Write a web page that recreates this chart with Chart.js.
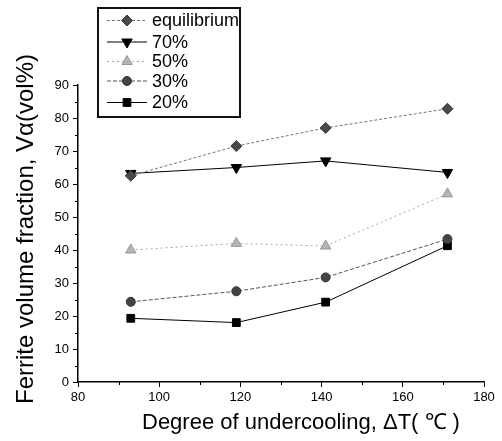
<!DOCTYPE html>
<html>
<head>
<meta charset="utf-8">
<script src="https://cdn.jsdelivr.net/npm/chart.js@4.4.0/dist/chart.umd.min.js"></script>
<style>
  html, body { margin: 0; padding: 0; background: #fff; }
</style>
</head>
<body>
<canvas id="grafico" width="502" height="441"></canvas>
<script>
// datos
const undercooling = [93, 119, 141, 171];
const seriesNames = ['equilibrium', '70%', '50%', '30%', '20%'];
const equilibrium = [62.5, 71.5, 77, 82.8];
const pct70 = [63.2, 65, 67, 63.5];
const pct50 = [40, 42, 41.2, 57];
const pct30 = [24.3, 27.5, 31.7, 43.3];
const pct20 = [19.3, 18, 24.2, 41.3];
const xTicks = [80, 100, 120, 140, 160, 180];
const yTicks = [0, 10, 20, 30, 40, 50, 60, 70, 80, 90];

const FONT = '"Liberation Sans", Arial, sans-serif';

function puntos(ys) {
    return undercooling.map((x, i) => ({ x: x, y: ys[i] }));
}

const estilos = [
    { borderColor: '#777', borderDash: [3, 2], pointStyle: 'rectRot', pointRadius: 5.5, pointBackgroundColor: '#4a4a4a', pointBorderColor: '#333', rotation: 0 },
    { borderColor: '#000', borderDash: [], pointStyle: 'triangle', pointRadius: 6, pointBackgroundColor: '#000', pointBorderColor: '#000', rotation: 180 },
    { borderColor: '#aaa', borderDash: [2, 3], pointStyle: 'triangle', pointRadius: 6, pointBackgroundColor: '#b4b4b4', pointBorderColor: '#999', rotation: 0 },
    { borderColor: '#555', borderDash: [4, 2], pointStyle: 'circle', pointRadius: 4.5, pointBackgroundColor: '#444', pointBorderColor: '#333', rotation: 0 },
    { borderColor: '#000', borderDash: [], pointStyle: 'rect', pointRadius: 5.5, pointBackgroundColor: '#000', pointBorderColor: '#000', rotation: 0 }
];

const valores = [equilibrium, pct70, pct50, pct30, pct20];

const datasets = valores.map((ys, i) => ({
    label: seriesNames[i],
    data: puntos(ys),
    borderColor: estilos[i].borderColor,
    borderDash: estilos[i].borderDash,
    borderWidth: 1,
    pointStyle: estilos[i].pointStyle,
    pointRadius: estilos[i].pointRadius,
    pointRotation: estilos[i].rotation,
    pointBackgroundColor: estilos[i].pointBackgroundColor,
    pointBorderColor: estilos[i].pointBorderColor,
    pointBorderWidth: 1,
    tension: 0
}));

// ticks menores + titulos + leyenda
const decoracion = {
    id: 'decoracion',
    afterDraw(chart) {
        const ctx = chart.ctx;
        const xs = chart.scales.x;
        const ys = chart.scales.y;
        const area = chart.chartArea;

        ctx.save();
        ctx.strokeStyle = '#000';
        ctx.lineWidth = 1;
        for (let v = 90; v <= 170; v += 20) {
            const px = Math.round(xs.getPixelForValue(v)) + 0.5;
            ctx.beginPath();
            ctx.moveTo(px, area.bottom);
            ctx.lineTo(px, area.bottom + 3);
            ctx.stroke();
        }
        for (let v = 5; v <= 85; v += 10) {
            const py = Math.round(ys.getPixelForValue(v)) + 0.5;
            ctx.beginPath();
            ctx.moveTo(area.left, py);
            ctx.lineTo(area.left - 3, py);
            ctx.stroke();
        }

        // titulos de ejes
        ctx.fillStyle = '#000';
        ctx.font = '22px ' + FONT;
        ctx.textAlign = 'left';
        ctx.textBaseline = 'alphabetic';
        ctx.fillText('Degree of undercooling, \u0394T( \u2103 )', 142, 429);

        ctx.translate(33, 404);
        ctx.rotate(-Math.PI / 2);
        ctx.font = '24px ' + FONT;
        ctx.fillText('Ferrite volume fraction, V\u03b1(vol%)', 0, 0);
        ctx.restore();

        // leyenda
        ctx.save();
        ctx.fillStyle = '#fff';
        ctx.fillRect(97, 7, 144, 110);
        ctx.strokeStyle = '#111';
        ctx.lineWidth = 2;
        ctx.strokeRect(98, 8, 142, 109);
        const filas = [20.5, 42, 61.5, 81, 102.5];
        ctx.font = '18px ' + FONT;
        ctx.textBaseline = 'middle';
        ctx.textAlign = 'left';
        datasets.forEach((ds, i) => {
            const y = filas[i];
            ctx.save();
            ctx.strokeStyle = ds.borderColor;
            ctx.lineWidth = 1;
            ctx.setLineDash(ds.borderDash);
            ctx.beginPath();
            ctx.moveTo(107, y);
            ctx.lineTo(147, y);
            ctx.stroke();
            ctx.restore();
            ctx.save();
            ctx.fillStyle = ds.pointBackgroundColor;
            ctx.strokeStyle = ds.pointBorderColor;
            ctx.lineWidth = 1;
            if (Chart.helpers && Chart.helpers.drawPoint) {
                Chart.helpers.drawPoint(ctx, {
                    pointStyle: ds.pointStyle,
                    radius: ds.pointRadius,
                    rotation: ds.pointRotation,
                    borderWidth: 1
                }, 127, y);
            }
            ctx.restore();
            ctx.fillStyle = '#000';
            ctx.fillText(ds.label, 152, y + 1);
        });
        ctx.restore();
    }
};

new Chart(document.getElementById('grafico'), {
    type: 'line',
    data: { datasets: datasets },
    options: {
        responsive: false,
        devicePixelRatio: 1,
        animation: false,
        layout: { padding: { top: 85, right: 18, left: 0, bottom: 0 } },
        plugins: {
            legend: { display: false },
            tooltip: { enabled: false }
        },
        scales: {
            x: {
                type: 'linear',
                min: 80,
                max: 180,
                afterFit: s => { s.height = 59; },
                afterBuildTicks: s => { s.ticks = xTicks.map(v => ({ value: v })); },
                grid: { drawOnChartArea: false, drawTicks: true, tickLength: 5, color: '#000', tickWidth: 1 },
                border: { display: true, color: '#000', width: 1.5 },
                ticks: { color: '#000', font: { family: FONT, size: 13 }, padding: 3, maxRotation: 0 }
            },
            y: {
                type: 'linear',
                min: 0,
                max: 90,
                afterFit: s => { s.width = 78; },
                afterBuildTicks: s => { s.ticks = yTicks.map(v => ({ value: v })); },
                grid: { drawOnChartArea: false, drawTicks: true, tickLength: 5, color: '#000', tickWidth: 1 },
                border: { display: true, color: '#000', width: 1.5 },
                ticks: { color: '#000', font: { family: FONT, size: 13 }, padding: 4 }
            }
        }
    },
    plugins: [decoracion]
});
</script>
</body>
</html>
